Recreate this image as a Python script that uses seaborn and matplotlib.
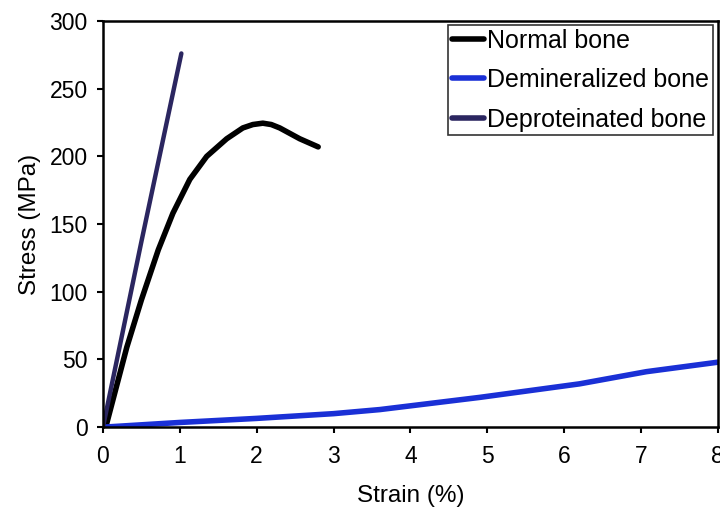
import pandas as pd
import seaborn as sns
import matplotlib.pyplot as plt

# values
normal_strain = [0, 0.05, 0.31, 0.50, 0.72, 0.91, 1.13, 1.35, 1.61, 1.82, 1.95, 2.08, 2.19, 2.30, 2.56, 2.80]
normal_stress = [0, 3, 59, 94, 131, 158, 183, 200, 213, 221, 223.5, 224.5, 223.5, 221, 213, 207]

demin_strain = [0, 1, 2, 3, 3.6, 4.9, 6.2, 7.07, 8.0]
demin_stress = [0, 3.5, 6.5, 10, 13, 22, 32, 41, 48]

deprot_strain = [0, 0.5, 1.02]
deprot_stress = [0, 137, 276]

labels = ["Normal bone", "Demineralized bone", "Deproteinated bone"]
colors = ["#000000", "#1a30d6", "#2b2660"]

df = pd.concat([
    pd.DataFrame({"strain": normal_strain, "stress": normal_stress, "sample": labels[0]}),
    pd.DataFrame({"strain": demin_strain, "stress": demin_stress, "sample": labels[1]}),
    pd.DataFrame({"strain": deprot_strain, "stress": deprot_stress, "sample": labels[2]}),
])

sns.set_style("ticks")
plt.rcParams['font.family'] = ['Liberation Sans', 'DejaVu Sans']
plt.rcParams.update({"text.color": "black", "axes.labelcolor": "black",
                     "xtick.color": "black", "ytick.color": "black"})

fig = plt.figure(figsize=(7.2, 5.11), dpi=100)
ax = fig.add_axes([0.143, 0.164, 0.854, 0.795])

sns.lineplot(data=df, x="strain", y="stress", hue="sample", hue_order=labels,
             palette=colors, sort=False, estimator=None, linewidth=4, ax=ax,
             solid_capstyle="round", solid_joinstyle="round")
ax.get_lines()[2].set_linewidth(3.2)

ax.set_xlim(0, 8)
ax.set_ylim(0, 300)
ax.set_xticks(range(0, 9))
ax.set_yticks(range(0, 301, 50))
ax.tick_params(labelsize=16.5, length=4, width=1.5, direction="out", colors="black")
ax.tick_params(axis="x", pad=9)
ax.tick_params(axis="y", pad=7)
for s in ax.spines.values():
    s.set_linewidth(1.8)
    s.set_color("black")
ax.set_xlabel("Strain (%)", fontsize=17.5, labelpad=12, color="black")
ax.set_ylabel("Stress (MPa)", fontsize=17.5, labelpad=6, color="black")

leg = ax.legend(loc="upper left", bbox_to_anchor=(448 / 720, 1 - 25 / 511),
                bbox_transform=fig.transFigure, fontsize=18, frameon=True,
                fancybox=False, handlelength=1.3, handletextpad=0.12,
                borderpad=0.15, labelspacing=0.62, borderaxespad=0)
leg.get_frame().set_edgecolor("black")
leg.get_frame().set_linewidth(1.2)
for line in leg.get_lines():
    line.set_linewidth(4)
for t in leg.get_texts():
    t.set_color("black")

fig.savefig("out.png", dpi=100)
